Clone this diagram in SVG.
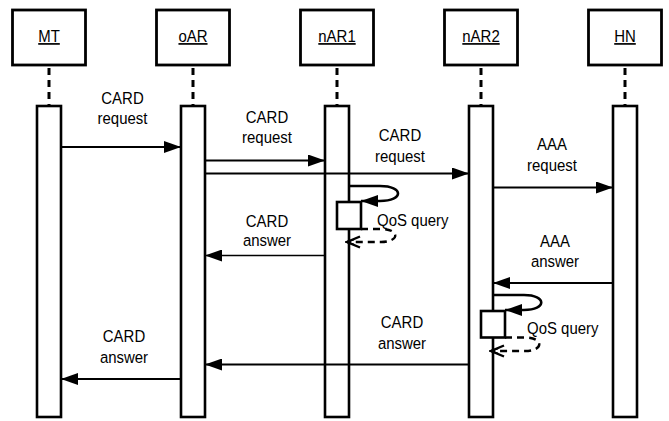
<svg xmlns="http://www.w3.org/2000/svg" width="669" height="421" viewBox="0 0 669 421">
<style>
.hdr{fill:#fff;stroke:#000;stroke-width:2.8}
.bar{fill:#fff;stroke:#000;stroke-width:2.6}
.life{stroke:#000;stroke-width:3;stroke-dasharray:7 5;fill:none}
.t{font-family:"Liberation Sans",Arial,Helvetica,sans-serif;font-size:17px;fill:#000;text-anchor:middle}
.u{text-decoration:underline}
.s{text-anchor:start}
.msg{stroke:#000;stroke-width:2;fill:none;marker-end:url(#ah)}
.thin{stroke-width:1.4}
.loop{stroke:#000;stroke-width:2.6;fill:none;marker-end:url(#ah)}
.ret{stroke:#000;stroke-width:2.4;fill:none;stroke-dasharray:7 5;marker-end:url(#oh)}
.act{fill:#fff;stroke:#000;stroke-width:2.6}
</style>
<defs>
<marker id="ah" markerUnits="userSpaceOnUse" markerWidth="17" markerHeight="12" refX="17" refY="6" orient="auto">
<path d="M0,0 L17,6 L0,12 Z" fill="#000"/>
</marker>
<marker id="oh" markerUnits="userSpaceOnUse" markerWidth="18" markerHeight="14" refX="16" refY="7" orient="auto">
<path d="M3,1.5 L16,7 L3,12.5" fill="none" stroke="#000" stroke-width="2.4"/>
<path d="M9,4.5 L16,7 L9,9.5" fill="none" stroke="#000" stroke-width="1.6"/>
</marker>
</defs>

<g id="MT">
<rect class="hdr" x="12.5" y="10" width="73" height="55"/>
<g transform="translate(49,42) scale(0.88,1)"><text class="t u">MT</text></g>
<line class="life" x1="49" y1="68" x2="49" y2="106"/>
<rect class="bar" x="37" y="106" width="24" height="311"/>
</g>
<g id="oAR">
<rect class="hdr" x="156.5" y="10" width="73" height="55"/>
<g transform="translate(193,42) scale(0.88,1)"><text class="t u">oAR</text></g>
<line class="life" x1="193" y1="68" x2="193" y2="106"/>
<rect class="bar" x="181" y="106" width="24" height="311"/>
</g>
<g id="nAR1">
<rect class="hdr" x="300.5" y="10" width="73" height="55"/>
<g transform="translate(337,42) scale(0.88,1)"><text class="t u">nAR1</text></g>
<line class="life" x1="337" y1="68" x2="337" y2="106"/>
<rect class="bar" x="325" y="106" width="24" height="311"/>
</g>
<g id="nAR2">
<rect class="hdr" x="444.5" y="10" width="73" height="55"/>
<g transform="translate(481,42) scale(0.88,1)"><text class="t u">nAR2</text></g>
<line class="life" x1="481" y1="68" x2="481" y2="106"/>
<rect class="bar" x="469" y="106" width="24" height="311"/>
</g>
<g id="HN">
<rect class="hdr" x="588.5" y="10" width="73" height="55"/>
<g transform="translate(625,42) scale(0.88,1)"><text class="t u">HN</text></g>
<line class="life" x1="625" y1="68" x2="625" y2="106"/>
<rect class="bar" x="613" y="106" width="24" height="311"/>
</g>

<g id="connectors">
<line class="msg" x1="61" y1="147" x2="181" y2="147"/>
<line class="msg" x1="205" y1="160.5" x2="325" y2="160.5"/>
<line class="msg" x1="205" y1="173.5" x2="469" y2="173.5"/>
<line class="msg" x1="493" y1="187.5" x2="613" y2="187.5"/>
<line class="msg thin" x1="325" y1="255.5" x2="205" y2="255.5"/>
<line class="msg" x1="613" y1="283" x2="493" y2="283"/>
<line class="msg" x1="469" y1="364.5" x2="205" y2="364.5"/>
<line class="msg" x1="181" y1="379" x2="61" y2="379"/>
<path class="loop" d="M349,186 H380 C404,186 404,201 380,201 H361"/>
<path class="ret" d="M361,229 H381 C400,229 400,242 381,242 H347"/>
<path class="loop" d="M493,295 H524 C547,295 547,310 524,310 H505"/>
<path class="ret" d="M505,337.5 H525 C544,337.5 544,351 525,351 H491"/>
</g>

<g id="act-nAR1"><rect class="act" x="337" y="202" width="24" height="27"/></g>
<g id="act-nAR2"><rect class="act" x="481" y="311" width="24" height="26.5"/></g>

<g id="labels">
<g transform="translate(122.5,0) scale(0.88,1)"><text class="t" y="104">CARD</text><text class="t" y="124">request</text></g>
<g transform="translate(267,0) scale(0.88,1)"><text class="t" y="123">CARD</text><text class="t" y="143">request</text></g>
<g transform="translate(400,0) scale(0.88,1)"><text class="t" y="141.5">CARD</text><text class="t" y="162">request</text></g>
<g transform="translate(552,0) scale(0.88,1)"><text class="t" y="150">AAA</text><text class="t" y="171">request</text></g>
<g transform="translate(267,0) scale(0.88,1)"><text class="t" y="227">CARD</text><text class="t" y="246.5">answer</text></g>
<g transform="translate(555,0) scale(0.88,1)"><text class="t" y="247">AAA</text><text class="t" y="267">answer</text></g>
<g transform="translate(402,0) scale(0.88,1)"><text class="t" y="328">CARD</text><text class="t" y="349">answer</text></g>
<g transform="translate(124,0) scale(0.88,1)"><text class="t" y="342.5">CARD</text><text class="t" y="363">answer</text></g>
<g transform="translate(377,226) scale(0.88,1)"><text class="t s">QoS query</text></g>
<g transform="translate(527,334) scale(0.88,1)"><text class="t s">QoS query</text></g>
</g>
</svg>
